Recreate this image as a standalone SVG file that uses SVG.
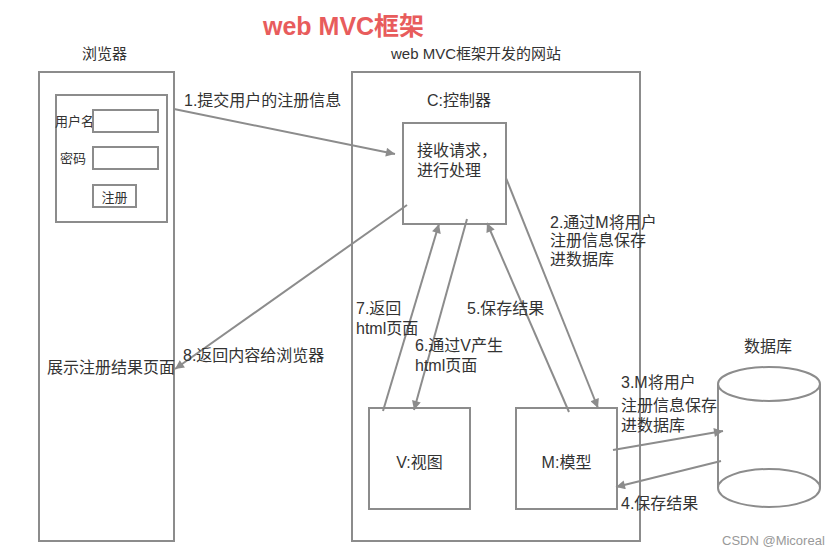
<svg xmlns="http://www.w3.org/2000/svg" width="840" height="555" viewBox="0 0 840 555">
<style>
text{font-family:"Liberation Sans","Noto Sans CJK SC",sans-serif;fill:#333;font-size:16px}
.box{fill:#fff;stroke:#8c8c8c;stroke-width:2}
.ln{stroke:#8c8c8c;stroke-width:2;fill:none}
.sm{font-size:13px}
.t15{font-size:15px}
</style>
<defs>
<marker id="ah" viewBox="0 0 10 10" refX="10" refY="5" markerWidth="11" markerHeight="9" markerUnits="userSpaceOnUse" orient="auto">
<path d="M0,0 L10,5 L0,10 z" fill="#8c8c8c"/>
</marker>
</defs>
<rect width="840" height="555" fill="#fff"/>
<text x="263" y="35" style="font-size:25px;font-weight:bold;fill:#e85c5c">web MVC框架</text>
<text class="t15" x="82" y="59">浏览器</text>
<text class="t15" x="391" y="59">web MVC框架开发的网站</text>

<g id="browser">
<rect class="box" x="39" y="72" width="135" height="469"/>
<text x="47" y="373">展示注册结果页面</text>
</g>
<g id="form">
<rect class="box" x="56" y="95" width="111" height="127"/>
<text class="sm" x="55" y="126">用户名</text>
<rect class="box" x="93" y="110" width="65" height="22"/>
<text class="sm" x="60" y="163">密码</text>
<rect class="box" x="93" y="147" width="65" height="22"/>
<rect class="box" x="93" y="185" width="43" height="22"/>
<text class="sm" x="114.5" y="202" text-anchor="middle">注册</text>
</g>
<g id="website">
<rect class="box" x="352" y="72" width="288" height="469"/>
</g>
<g id="controller">
<text x="427" y="106">C:控制器</text>
<rect class="box" x="403" y="123" width="103" height="101"/>
<text x="417" y="156">接收请求，</text>
<text x="417" y="176">进行处理</text>
</g>
<g id="view">
<rect class="box" x="369" y="408" width="101" height="101"/>
<text x="419.5" y="468" text-anchor="middle">V:视图</text>
</g>
<g id="model">
<rect class="box" x="516" y="408" width="101" height="101"/>
<text x="566.5" y="468" text-anchor="middle">M:模型</text>
</g>
<g id="database">
<text x="744" y="352">数据库</text>
<path class="ln" d="M718,384 L718,488 A51,19 0 0 0 820,488 L820,384" fill="#fff"/>
<ellipse class="ln" cx="769" cy="384" rx="51" ry="17" fill="#fff"/>
<path class="ln" d="M718,488 A51,19 0 0 1 820,488"/>
</g>

<g id="connectors">
<line class="ln" x1="174" y1="109" x2="395" y2="154" marker-end="url(#ah)"/>
<line class="ln" x1="407" y1="205" x2="175" y2="369" marker-end="url(#ah)"/>
<line class="ln" x1="506" y1="178" x2="598" y2="408" marker-end="url(#ah)"/>
<line class="ln" x1="383" y1="411" x2="439" y2="224" marker-end="url(#ah)"/>
<line class="ln" x1="467" y1="219" x2="414" y2="410" marker-end="url(#ah)"/>
<line class="ln" x1="569" y1="412" x2="487" y2="223" marker-end="url(#ah)"/>
<line class="ln" x1="613" y1="450" x2="723" y2="431" marker-end="url(#ah)"/>
<line class="ln" x1="721" y1="461" x2="616" y2="487" marker-end="url(#ah)"/>
</g>

<g id="labels">
<text x="184" y="106">1.提交用户的注册信息</text>
<text x="183" y="361">8.返回内容给浏览器</text>
<text x="550" y="228">2.通过M将用户</text>
<text x="550" y="246">注册信息保存</text>
<text x="550" y="265">进数据库</text>
<text x="356" y="314">7.返回</text>
<text x="356" y="334">html页面</text>
<text x="415" y="351">6.通过V产生</text>
<text x="415" y="371">html页面</text>
<text x="467" y="314">5.保存结果</text>
<text x="621" y="388">3.M将用户</text>
<text x="621" y="411">注册信息保存</text>
<text x="621" y="431">进数据库</text>
<text x="621" y="509">4.保存结果</text>
</g>
<text x="722" y="545" style="font-size:13px;fill:#999">CSDN @Micoreal</text>
</svg>
